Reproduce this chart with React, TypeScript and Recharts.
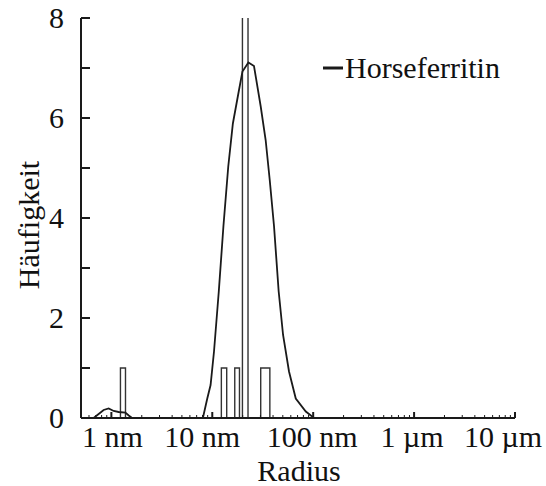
import React from 'react'
import { ComposedChart, Line, XAxis, YAxis, ReferenceArea, Legend } from 'recharts'

// DLS size distribution, radius in nm
const radius = [
  0.5, 0.667, 0.748, 0.838, 0.94, 1.054, 1.18, 1.377, 1.486, 1.605, 8.07, 8.92, 9.62, 10.4, 11.6,
  12.9, 14.4, 16.0, 18.4, 19.9, 22.8, 25.9, 30.2, 33.8, 37.1, 40.9, 45.5, 50.3, 57.6, 67.2, 84.5,
  102, 10000,
]
const frequency = [
  0, 0, 0.08, 0.16, 0.19, 0.14, 0.12, 0.11, 0.05, 0, 0, 0.39, 0.66, 1.33, 2.53, 3.84, 5.03, 5.89,
  6.56, 6.93, 7.11, 7.04, 6.23, 5.56, 4.76, 3.84, 2.53, 1.66, 0.93, 0.39, 0.13, 0, 0,
]

// histogram bins (nm) and counts
const binLo = [1.23, 12.3, 16.7, 19.9, 30.2]
const binHi = [1.38, 13.9, 18.6, 22.6, 37.2]
const binCount = [1, 1, 1, 10, 1]

const decadeTicks = [1, 10, 100, 1000, 10000]
const decadeLabels = ['1 nm', '10 nm', '100 nm', '1 µm', '10 µm']
const minorSteps = [2, 3, 4, 5, 6, 7, 8, 9]
const yTicks = [0, 1, 2, 3, 4, 5, 6, 7, 8]
const seriesName = 'Horseferritin'

const INK = '#1a1a1a'
const TEXT_STYLE = {
  fontFamily: "'Liberation Serif', 'Times New Roman', serif",
  fontSize: 30,
  fill: '#111',
}

const data = radius.map((r, i) => ({ r, h: frequency[i] }))
const logTicks = [
  0.5, 0.6, 0.7, 0.8, 0.9,
  ...decadeTicks.flatMap((d) => [d, ...(d < 10000 ? minorSteps.map((m) => m * d) : [])]),
]

// small horizontal nudges for the decade labels
const labelNudge = [1, -10, -1, -2, 0]

function BottomTick({ x, y, payload }: any) {
  const i = decadeTicks.indexOf(payload.value)
  const major = i >= 0
  const last = i === decadeTicks.length - 1
  return (
    <g>
      <line x1={x} x2={x} y1={y} y2={y - (major ? 6 : 3)} stroke={INK} strokeWidth={major ? 2 : 1} />
      {major && (
        <text
          x={last ? x + 27 : x + labelNudge[i]}
          y={y + 29}
          textAnchor={last ? 'end' : 'middle'}
          style={TEXT_STYLE}
        >
          {decadeLabels[i]}
        </text>
      )}
    </g>
  )
}

function TopTick({ x, y, payload }: any) {
  const major = decadeTicks.includes(payload.value)
  return <line x1={x} x2={x} y1={y} y2={y + (major ? 5 : 3)} stroke={INK} strokeWidth={major ? 1.5 : 1} />
}

function LeftTick({ x, y, payload }: any) {
  const v = payload.value
  return (
    <g>
      <line x1={x} x2={x + 9} y1={y} y2={y} stroke={INK} strokeWidth={2} />
      {v % 2 === 0 && (
        <text x={x - 17} y={y + 10} textAnchor="end" style={TEXT_STYLE}>
          {v}
        </text>
      )}
    </g>
  )
}

function RightTick({ x, y }: any) {
  return <line x1={x} x2={x - 4} y1={y} y2={y} stroke={INK} strokeWidth={1} />
}

function XTitle({ viewBox }: any) {
  const vb = viewBox ?? { x: 81, y: 418, width: 434, height: 68 }
  return (
    <text x={vb.x + vb.width / 2 + 1} y={vb.y + 63} textAnchor="middle" style={TEXT_STYLE}>
      Radius
    </text>
  )
}

function YTitle({ viewBox }: any) {
  const vb = viewBox ?? { x: 0, y: 18, width: 81, height: 400 }
  const cx = vb.x + 28
  const cy = vb.y + vb.height / 2 + 7
  return (
    <text
      x={cx}
      y={cy}
      transform={`rotate(-90 ${cx} ${cy})`}
      textAnchor="middle"
      dominantBaseline="central"
      style={TEXT_STYLE}
    >
      Häufigkeit
    </text>
  )
}

function LegendContent({ payload }: any) {
  const name = payload?.[0]?.value ?? seriesName
  return (
    <svg width={220} height={40}>
      <line x1={5} x2={25} y1={22} y2={22} stroke={INK} strokeWidth={3} />
      <text x={27} y={32} style={TEXT_STYLE}>
        {name}
      </text>
    </svg>
  )
}

export default function App() {
  return (
    <div style={{ position: 'absolute', left: 0, top: 0, background: '#fff' }}>
      <ComposedChart width={546} height={486} data={data} margin={{ top: 18, right: 31, bottom: 0, left: 0 }}>
        <XAxis
          dataKey="r"
          type="number"
          scale="log"
          domain={[0.5, 10000]}
          allowDataOverflow
          ticks={logTicks}
          interval={0}
          height={68}
          tickSize={0}
          tickMargin={0}
          tickLine={false}
          tick={<BottomTick />}
          axisLine={{ stroke: INK, strokeWidth: 2 }}
          label={{ content: XTitle }}
        />
        <XAxis
          xAxisId="top"
          orientation="top"
          dataKey="r"
          type="number"
          scale="log"
          domain={[0.5, 10000]}
          allowDataOverflow
          ticks={logTicks}
          interval={0}
          height={0}
          tickSize={0}
          tickMargin={0}
          tickLine={false}
          tick={<TopTick />}
          axisLine={{ stroke: INK, strokeWidth: 2 }}
        />
        <YAxis
          type="number"
          domain={[0, 8]}
          allowDataOverflow
          ticks={yTicks}
          interval={0}
          width={81}
          tickSize={0}
          tickMargin={0}
          tickLine={false}
          tick={<LeftTick />}
          axisLine={{ stroke: INK, strokeWidth: 2 }}
          label={{ content: YTitle }}
        />
        <YAxis
          yAxisId="right"
          orientation="right"
          type="number"
          domain={[0, 8]}
          ticks={yTicks}
          interval={0}
          width={0}
          tickSize={0}
          tickMargin={0}
          tickLine={false}
          tick={<RightTick />}
          axisLine={{ stroke: INK, strokeWidth: 2 }}
        />
        {binLo.map((lo, i) => (
          <ReferenceArea
            key={`bin-${i}`}
            x1={lo}
            x2={binHi[i]}
            y1={0}
            y2={binCount[i]}
            fill="none"
            fillOpacity={0}
            stroke="#333"
            strokeWidth={1.4}
            ifOverflow="hidden"
          />
        ))}
        <Line
          dataKey="h"
          name={seriesName}
          type="linear"
          stroke={INK}
          strokeWidth={1.8}
          dot={false}
          activeDot={false}
          isAnimationActive={false}
        />
        <Legend
          layout="horizontal"
          verticalAlign="middle"
          align="center"
          wrapperStyle={{ left: 318, top: 46, width: 220, height: 40 }}
          content={<LegendContent />}
        />
      </ComposedChart>
    </div>
  )
}
